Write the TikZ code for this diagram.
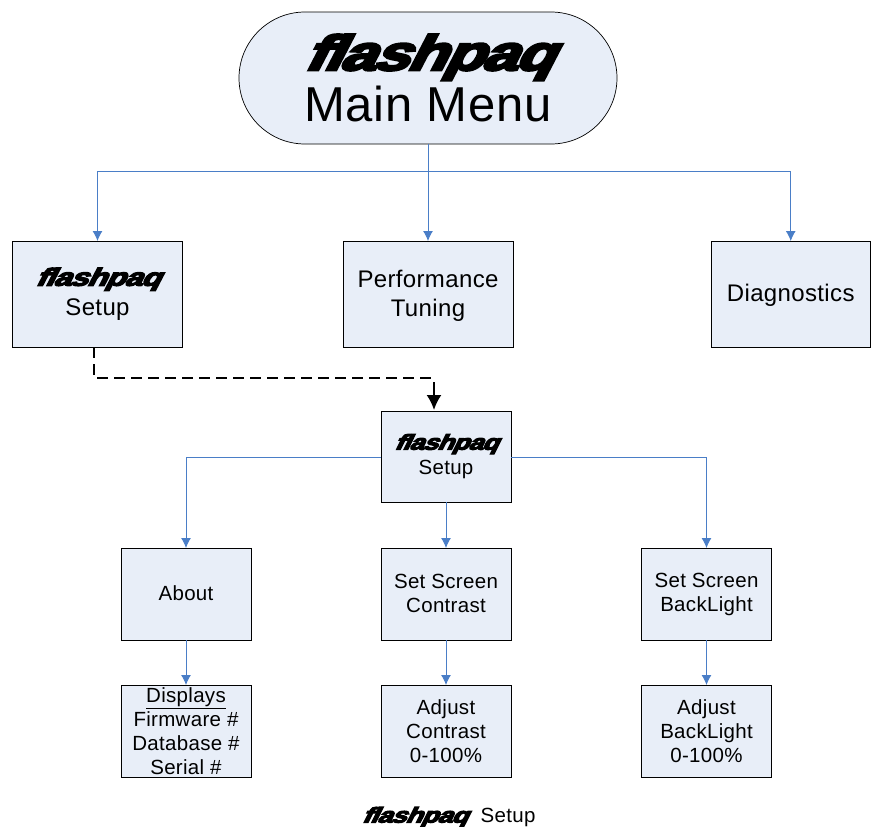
\documentclass[tikz,border=0pt]{standalone}
\usepackage{fontspec}
\usepackage{graphicx}
\setmainfont[LetterSpace=1.5]{Liberation Sans}
\newfontfamily\logofont[FakeSlant=0.4,FakeBold=5,LetterSpace=-3]{Liberation Sans Bold}
\newcommand{\fplogo}[2]{\resizebox*{#1}{#2}{\logofont flashpaq}}
\usetikzlibrary{arrows.meta}
\definecolor{boxfill}{HTML}{E8EEF8}
\definecolor{linkblue}{HTML}{4A7EC7}
\tikzset{
  x=1pt,y=-1pt,
  boxnode/.style={draw=black,line width=0.7pt,fill=boxfill,inner sep=0pt,outer sep=0pt,align=center,text=black},
  large/.style={boxnode,minimum height=106pt,font=\fontsize{24}{29.5}\selectfont},
  mid/.style={boxnode,minimum width=130pt,font=\fontsize{20.5}{24}\selectfont},
  link/.style={draw=linkblue,line width=0.9pt,-{Latex[length=10pt,width=10pt]}},
  branch/.style={draw=linkblue,line width=0.9pt},
  jump/.style={draw=black,line width=2pt,dash pattern=on 11pt off 6pt},
  jumphead/.style={draw=black,line width=2pt,-{Latex[length=15pt,width=15pt]}}
}
\begin{document}
\begin{tikzpicture}
\useasboundingbox (0,0) rectangle (871,827);
\node[boxnode,minimum width=378pt,minimum height=132pt,rounded corners=66pt,font=\fontsize{49}{57}\selectfont] (main) at (428,78) {\fplogo{250pt}{46pt}\hspace{4pt}\\[-6pt]Main Menu};
\node[large,minimum width=170pt] (setup) at (97.5,294) {\fplogo{125pt}{23pt}\hspace{2pt}\\[0pt]Setup};
\node[large,minimum width=170pt] (perf) at (428,294) {\rule{0pt}{21pt}Performance\\Tuning};
\node[large,minimum width=159.5pt] (diag) at (790.75,294) {\rule{0pt}{20pt}Diagnostics};
\node[mid,minimum height=91pt] (setupb) at (446,456.5) {\fplogo{104pt}{20pt}\hspace{4pt}\\[1pt]Setup};
\node[mid,minimum height=92pt] (about) at (186,594) {About\rule[-2pt]{0pt}{0pt}};
\node[mid,minimum height=92pt] (contrast) at (446,594) {Set Screen\\Contrast\rule[-2pt]{0pt}{0pt}};
\node[mid,minimum height=92pt] (back) at (706.5,594) {Set Screen\\BackLight};
\node[mid,minimum height=92pt] (disp) at (186,731) {\underline{Displays}\\Firmware \#\\Database \#\\Serial \#};
\node[mid,minimum height=92pt] (adjc) at (446,731) {Adjust\\Contrast\\0-100\%};
\node[mid,minimum height=92pt] (adjb) at (706.5,731) {Adjust\\BackLight\\0-100\%};
\node[inner sep=0pt,font=\fontsize{20.5}{24}\selectfont] (cap) at (448.5,817) {\fplogo{106pt}{20pt}\hspace{13pt}Setup};
\coordinate (bus) at (428,171);
\draw[branch] (main.south) -- (bus);
\draw[link] (bus) -| (setup.north);
\draw[link] (bus) -- (perf.north);
\draw[link] (bus) -| (diag.north);
\draw[link] (setupb.west |- 0,457) -| (about.north);
\draw[link] (setupb.east |- 0,457) -| (back.north);
\draw[link] (setupb.south) -- (contrast.north);
\draw[link] (about.south) -- (disp.north);
\draw[link] (contrast.south) -- (adjc.north);
\draw[link] (back.south) -- (adjb.north);
\coordinate (js) at (94,347);
\coordinate (je) at (432,378);
\coordinate (hs) at (434,382);
\coordinate (he) at (434,410);
\draw[jump] (js) |- (je);
\draw[jumphead] (hs) -- (he);
\end{tikzpicture}
\end{document}
